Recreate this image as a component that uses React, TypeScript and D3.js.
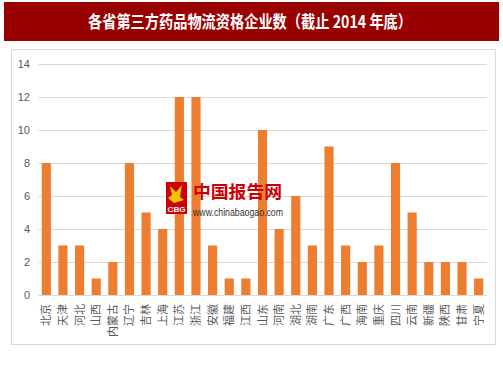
import React from "react";
import * as d3 from "d3";

const provinces = ["北京","天津","河北","山西","内蒙古","辽宁","吉林","上海","江苏","浙江","安徽","福建","江西","山东","河南","湖北","湖南","广东","广西","海南","重庆","四川","云南","新疆","陕西","甘肃","宁夏"];
const counts = [8,3,3,1,2,8,5,4,12,12,3,1,1,10,4,6,3,9,3,2,3,8,5,2,2,2,1];
const yTicks = [0,2,4,6,8,10,12,14];
const title = "各省第三方药品物流资格企业数（截止 2014 年底）";

export default function App() {
  const W = 503, H = 378;
  const x = d3.scaleBand<string>().domain(provinces).range([38, 487]).paddingInner(0.45).paddingOuter(0.225);
  const y = d3.scaleLinear().domain([0, 14]).range([295, 64]);
  const font = "'Noto Sans CJK SC', 'Liberation Sans', sans-serif";
  return (
    <svg width={W} height={H} style={{ position: "absolute", left: 0, top: 0, background: "#fff" }}>
      <rect x={4} y={2} width={495} height={39} fill="#990000" />
      <text x={88} y={28} fill="#fff" fontSize={17} fontWeight="bold" fontFamily={font} textLength={324} lengthAdjust="spacingAndGlyphs">{title}</text>
      <rect x={11.5} y={49.5} width={484} height={295} fill="#fff" stroke="#d9d9d9" strokeWidth={1} />
      {yTicks.map(t => (
        <g key={t}>
          <line x1={38} x2={487} y1={Math.round(y(t)) + 0.5} y2={Math.round(y(t)) + 0.5} stroke="#d9d9d9" strokeWidth={1} />
          <text x={30} y={y(t) + 4} textAnchor="end" fontSize={11} fill="#595959" fontFamily="'Liberation Sans', sans-serif">{t}</text>
        </g>
      ))}
      {provinces.map((p, i) => (
        <rect key={p} x={x(p)} y={y(counts[i])} width={x.bandwidth()} height={y(0) - y(counts[i])} fill="#ed7d31" />
      ))}
      {provinces.map(p => {
        const cx = (x(p) as number) + x.bandwidth() / 2;
        return (
          <text key={p} transform={`translate(${cx + 4},${304}) rotate(-90)`} textAnchor="end" fontSize={11} fill="#595959" fontFamily={font}>{p}</text>
        );
      })}
      <g>
        <rect x={166} y={182} width={21} height={32} fill="#cc0000" />
        <path d="M170,186 L176,192 L182,185 L180,197 L184,200 L174,203 L168,198 L172,195 Z" fill="#f5c400" />
        <text x={176.5} y={212} textAnchor="middle" fontSize={8} fontWeight="bold" fill="#fff" fontFamily="'Liberation Sans', sans-serif">CBG</text>
        <text x={193} y={198} fontSize={17.5} fontWeight="bold" fill="#cc0000" fontFamily={font} textLength={89} lengthAdjust="spacingAndGlyphs">中国报告网</text>
        <text x={193} y={216} fontSize={10.5} fill="#333" fontFamily="'Liberation Sans', sans-serif" textLength={90} lengthAdjust="spacingAndGlyphs">www.chinabaogao.com</text>
      </g>
    </svg>
  );
}
